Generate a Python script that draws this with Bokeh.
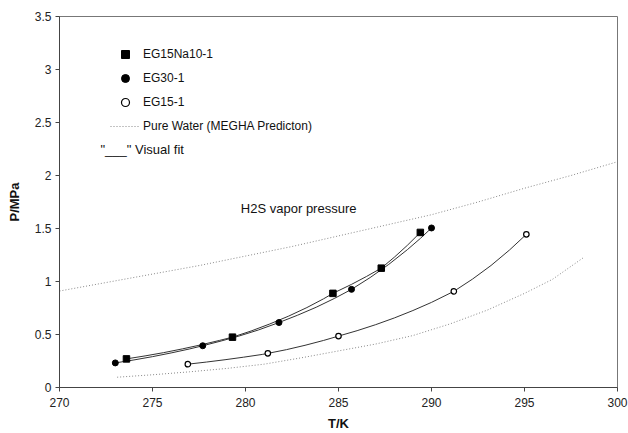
from bokeh.plotting import figure
from bokeh.models import (Legend, LegendItem, Label, FixedTicker, CustomJSTickFormatter, Range1d)
from bokeh.embed import file_html
from bokeh.resources import INLINE

# ---- data ----
na_T = [273.6, 279.3, 284.7, 287.3, 289.4]
na_P = [0.27, 0.475, 0.888, 1.126, 1.463]
eg30_T = [273.0, 277.7, 281.8, 285.7, 290.0]
eg30_P = [0.232, 0.394, 0.613, 0.926, 1.505]
eg15_T = [276.9, 281.2, 285.0, 291.2, 295.1]
eg15_P = [0.22, 0.322, 0.485, 0.907, 1.445]

# visual fit curves
fit_na_T = [273.6, 274.6, 275.6, 276.6, 277.6, 278.6, 279.3, 280.3, 281.3, 282.3, 283.3,
            284.2, 284.7, 285.7, 286.5, 287.3, 288.0, 288.7, 289.4]
fit_na_P = [0.27, 0.298, 0.329, 0.364, 0.402, 0.444, 0.475, 0.533, 0.599, 0.672, 0.754,
            0.837, 0.888, 0.973, 1.047, 1.126, 1.229, 1.341, 1.463]
fit_eg30_T = [273.0, 274.0, 275.0, 276.0, 277.0, 277.7, 278.7, 279.7, 280.7, 281.8, 282.8,
              283.8, 284.8, 285.7, 286.7, 287.7, 288.7, 289.4, 290.0]
fit_eg30_P = [0.232, 0.26, 0.291, 0.326, 0.364, 0.394, 0.439, 0.488, 0.543, 0.613, 0.682,
              0.757, 0.842, 0.926, 1.037, 1.161, 1.30, 1.406, 1.505]
fit_eg15_T = [276.9, 277.9, 278.9, 279.9, 280.9, 281.2, 282.2, 283.2, 284.2, 285.0, 286.0,
              287.0, 288.0, 289.0, 290.0, 291.2, 292.2, 293.2, 294.2, 295.1]
fit_eg15_P = [0.22, 0.24, 0.262, 0.286, 0.312, 0.322, 0.357, 0.398, 0.444, 0.485, 0.536,
              0.593, 0.656, 0.726, 0.803, 0.907, 1.022, 1.151, 1.298, 1.445]

# pure water (MEGHA prediction)
h2s_T = [270, 272.5, 275, 277.5, 280, 282.5, 285, 287.5, 290, 292.5, 295, 297.5, 300]
h2s_P = [0.91, 0.99, 1.07, 1.15, 1.24, 1.33, 1.43, 1.53, 1.63, 1.75, 1.88, 2.0, 2.13]
pw_T = [273.1, 275, 277, 279, 281, 283, 285, 287, 289, 291, 293, 295, 296.5, 298.2]
pw_P = [0.097, 0.12, 0.148, 0.18, 0.22, 0.28, 0.345, 0.41, 0.49, 0.6, 0.73, 0.888, 1.02, 1.229]

x_ticks = [270, 275, 280, 285, 290, 295, 300]
y_ticks = [0, 0.5, 1, 1.5, 2, 2.5, 3, 3.5]

FONT = "Liberation Sans"

p = figure(width=628, height=433, output_backend="svg", toolbar_location=None,
           x_range=Range1d(270, 300), y_range=Range1d(0, 3.5),
           min_border_left=59, min_border_right=11, min_border_top=16, min_border_bottom=44)
p.background_fill_color = "white"
p.border_fill_color = "white"
p.outline_line_color = "#777777"
p.grid.visible = False

for ax in (p.xaxis[0], p.yaxis[0]):
    ax.axis_line_color = "#444444"
    ax.major_tick_line_color = "#444444"
    ax.major_tick_out = 4
    ax.major_tick_in = 0
    ax.minor_tick_line_color = None
    ax.major_label_text_font = FONT
    ax.major_label_text_font_size = "12px"
    ax.major_label_text_color = "#222222"
    ax.axis_label_text_font = FONT
    ax.axis_label_text_font_size = "13px"
    ax.axis_label_text_font_style = "bold"
    ax.axis_label_text_color = "#111111"

p.xaxis.ticker = FixedTicker(ticks=x_ticks)
p.yaxis.ticker = FixedTicker(ticks=y_ticks)
p.yaxis.formatter = CustomJSTickFormatter(code="return tick.toString();")
p.xaxis.axis_label = "T/K"
p.yaxis.axis_label = "P/MPa"
p.xaxis.major_label_standoff = 6
p.yaxis.major_label_standoff = 4
p.xaxis.axis_label_standoff = 6
p.yaxis.axis_label_standoff = 10

# dotted pure-water lines
dot_col = "#888888"
r_h2s = p.line(h2s_T, h2s_P, line_color=dot_col, line_dash="1 2", line_width=1)
p.line(pw_T, pw_P, line_color=dot_col, line_dash="1 2", line_width=1)

# fit curves
fit_col = "#333333"
p.line(fit_na_T, fit_na_P, line_color=fit_col, line_width=1)
p.line(fit_eg30_T, fit_eg30_P, line_color=fit_col, line_width=1)
p.line(fit_eg15_T, fit_eg15_P, line_color=fit_col, line_width=1)

# data points
r_na = p.scatter(na_T, na_P, marker="square", size=6.5, fill_color="black", line_color="black")
r_30 = p.scatter(eg30_T, eg30_P, marker="circle", size=6, fill_color="black", line_color="black")
r_15 = p.scatter(eg15_T, eg15_P, marker="circle", size=5.5, fill_color="white", line_color="black",
                 line_width=1.2)

legend = Legend(items=[
    LegendItem(label="EG15Na10-1", renderers=[r_na]),
    LegendItem(label="EG30-1", renderers=[r_30]),
    LegendItem(label="EG15-1", renderers=[r_15]),
    LegendItem(label="Pure Water (MEGHA Predicton)", renderers=[r_h2s]),
], location=(51, 251))
legend.border_line_color = None
legend.background_fill_alpha = 0
legend.padding = 0
legend.margin = 0
legend.spacing = 4
legend.glyph_width = 30
legend.glyph_height = 20
legend.label_height = 20
legend.label_standoff = 3
legend.label_text_font = FONT
legend.label_text_font_size = "12px"
legend.label_text_color = "#111111"
p.add_layout(legend)

p.add_layout(Label(x=41, y=388 - 150, x_units="screen", y_units="screen",
                   text='"___" Visual fit', text_font=FONT, text_font_size="13px",
                   text_color="#111111", text_baseline="middle"))
p.add_layout(Label(x=279.75, y=1.69, text="H2S vapor pressure", text_font=FONT,
                   text_font_size="13px", text_color="#111111", text_baseline="middle"))

open("out.html", "w").write(file_html(p, INLINE))
